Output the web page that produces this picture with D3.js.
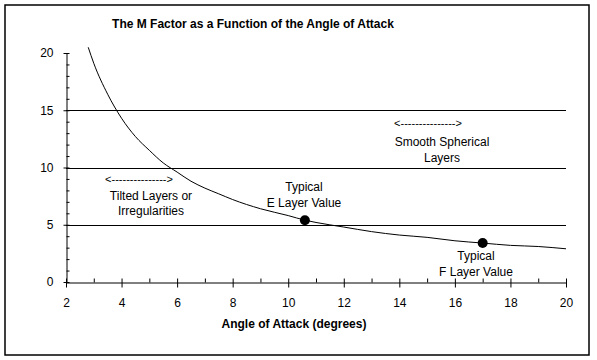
<!DOCTYPE html>
<html><head><meta charset="utf-8">
<script src="https://cdn.jsdelivr.net/npm/d3@7"></script>
<style>body{margin:0;background:#fff}svg{display:block}text{font-family:Arial,"Liberation Sans",sans-serif;fill:#000}</style>
</head><body><svg id="c" width="597" height="360"></svg>
<script>
// Data
const angles = [2.8, 3.0, 3.5, 4.0, 4.5, 5.0, 5.5, 6.0, 6.5, 7.0, 7.5, 8.0, 9.0, 10.0, 10.6, 11.0, 12.0, 13.0, 14.0, 15.0, 16.0, 17.0, 18.0, 19.0, 20.0];
const mFactor = [20.5, 19.1, 16.4, 14.3, 12.7, 11.5, 10.4, 9.6, 8.8, 8.2, 7.7, 7.2, 6.4, 5.8, 5.4, 5.2, 4.8, 4.4, 4.1, 3.9, 3.6, 3.4, 3.2, 3.1, 2.9];
const markerAngles = [10.6, 17.0];
const markerValues = [5.4, 3.4];
const xTicks = [2, 4, 6, 8, 10, 12, 14, 16, 18, 20];
const yTicks = [0, 5, 10, 15, 20];
const gridValues = [5, 10, 15];
const title = "The M Factor as a Function of the Angle of Attack";
const xTitle = "Angle of Attack (degrees)";

const svg = d3.select("#c");
svg.append("rect").attr("x", 5).attr("y", 5).attr("width", 584).attr("height", 350)
  .attr("fill", "#fff").attr("stroke", "#000").attr("stroke-width", 1.5);

const x = d3.scaleLinear().domain([2, 20]).range([66, 566]);
const y = d3.scaleLinear().domain([0, 20]).range([282, 53]);

// gridlines
svg.append("g").selectAll("line").data(gridValues).join("line")
  .attr("x1", x(2)).attr("x2", x(20)).attr("y1", d => Math.round(y(d)) + 0.5).attr("y2", d => Math.round(y(d)) + 0.5)
  .attr("stroke", "#000").attr("stroke-width", 1);

// minor ticks (inside)
const gx = svg.append("g").attr("transform", `translate(0,${Math.round(y(0)) + 0.5})`);
gx.call(d3.axisBottom(x).tickValues(d3.range(3, 20, 2)).tickSize(-4).tickFormat(""))
  .call(g => g.select(".domain").remove());
const gxMaj = svg.append("g").attr("transform", `translate(0,${Math.round(y(0)) + 0.5})`);
gxMaj.call(d3.axisBottom(x).tickValues(xTicks).tickSizeInner(5).tickSizeOuter(0).tickPadding(11))
  .call(g => g.selectAll(".tick line").attr("y1", -4))
  .call(g => g.selectAll("text").attr("font-size", 12).attr("font-family", "Arial"));

const gy = svg.append("g").attr("transform", `translate(${Math.round(x(2)) + 0.5},0)`);
gy.call(d3.axisLeft(y).tickValues(d3.range(1, 20).filter(v => v % 5)).tickSize(-3).tickFormat(""))
  .call(g => g.select(".domain").remove());
const gyMaj = svg.append("g").attr("transform", `translate(${Math.round(x(2)) + 0.5},0)`);
gyMaj.call(d3.axisLeft(y).tickValues(yTicks).tickSizeInner(4).tickSizeOuter(0).tickPadding(9))
  .call(g => g.selectAll(".tick line").attr("x2", -3).attr("x1", 3))
  .call(g => g.selectAll("text").attr("font-size", 12).attr("font-family", "Arial"));
svg.selectAll(".domain").attr("stroke", "#000");
svg.selectAll(".tick line").attr("stroke", "#000");

// curve
const line = d3.line().x((d, i) => x(angles[i])).y(d => y(d)).curve(d3.curveMonotoneX);
svg.append("path").datum(mFactor).attr("d", line).attr("fill", "none").attr("stroke", "#000").attr("stroke-width", 1);

// markers
svg.append("g").selectAll("circle").data(markerValues).join("circle")
  .attr("cx", (d, i) => x(markerAngles[i])).attr("cy", d => y(d)).attr("r", 5).attr("fill", "#000");

// title
svg.append("text").attr("x", 253).attr("y", 28).attr("text-anchor", "middle")
  .attr("font-size", 12).attr("font-weight", "bold").text(title);
svg.append("text").attr("x", 294).attr("y", 328).attr("text-anchor", "middle")
  .attr("font-size", 12).attr("font-weight", "bold").text(xTitle);

// annotations
const ann = [
  {x: 139, y: 183, t: "<--------------->", s: 11},
  {x: 151, y: 200, t: "Tilted Layers or", s: 12},
  {x: 151, y: 215, t: "Irregularities", s: 12},
  {x: 304, y: 191, t: "Typical", s: 12},
  {x: 304, y: 207, t: "E Layer Value", s: 12},
  {x: 428, y: 127, t: "<--------------->", s: 11},
  {x: 442, y: 146, t: "Smooth Spherical", s: 12},
  {x: 442, y: 162, t: "Layers", s: 12},
  {x: 476, y: 260, t: "Typical", s: 12},
  {x: 476, y: 276, t: "F Layer Value", s: 12}
];
svg.append("g").selectAll("text").data(ann).join("text")
  .attr("x", d => d.x).attr("y", d => d.y).attr("text-anchor", "middle")
  .attr("font-size", d => d.s).text(d => d.t);
</script></body></html>
